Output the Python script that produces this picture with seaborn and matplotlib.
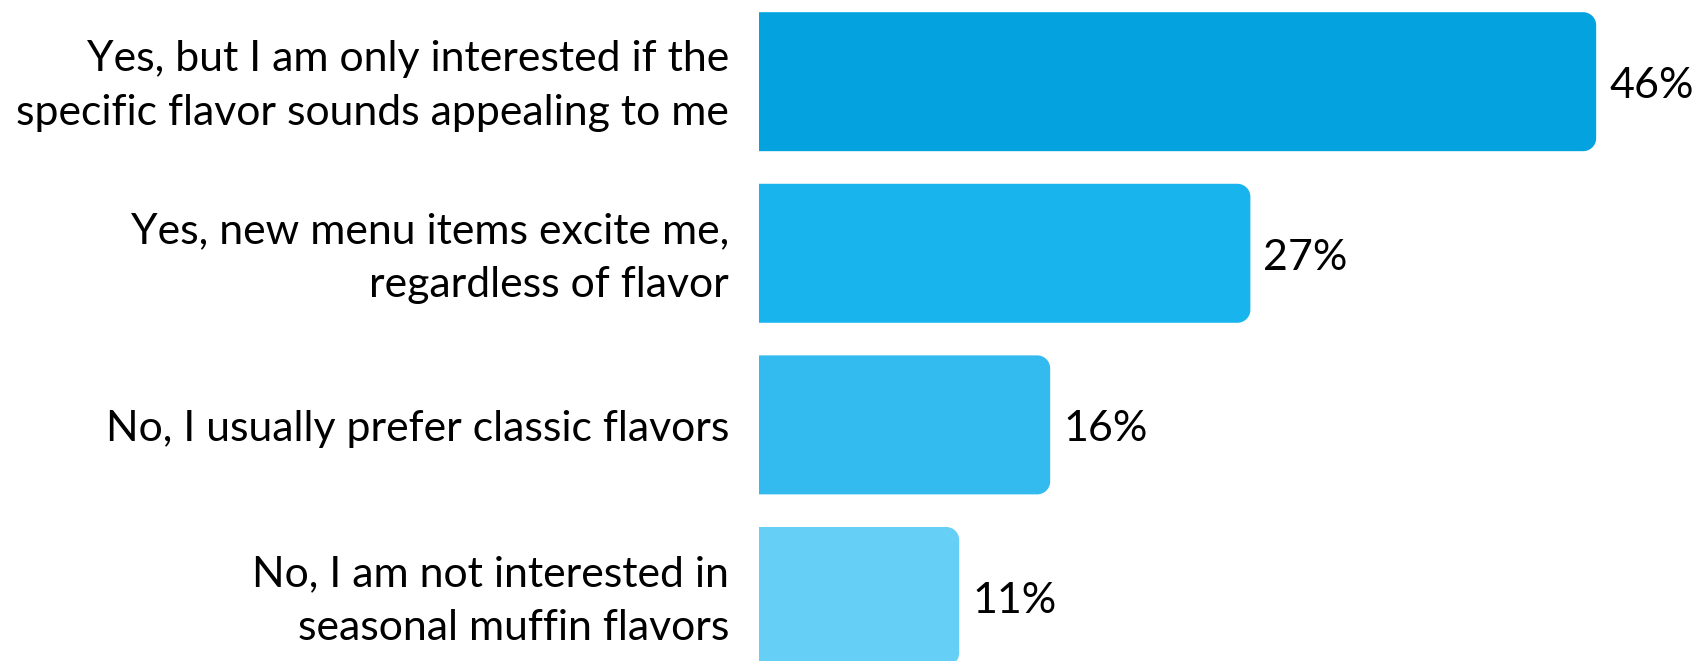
import matplotlib
matplotlib.use("Agg")
import matplotlib.pyplot as plt
import matplotlib.transforms as mtransforms
import seaborn as sns
import pandas as pd
from matplotlib.path import Path
from matplotlib.patches import PathPatch

categories = [
    "Yes, but I am only interested if the specific flavor sounds appealing to me",
    "Yes, new menu items excite me, regardless of flavor",
    "No, I usually prefer classic flavors",
    "No, I am not interested in seasonal muffin flavors",
]
tick_labels = [
    "Yes, but I am only interested if the\nspecific flavor sounds appealing to me",
    "Yes, new menu items excite me,\nregardless of flavor",
    "No, I usually prefer classic flavors",
    "No, I am not interested in\nseasonal muffin flavors",
]
values = [46, 27, 16, 11]
colors = ["#04A3E0", "#18B4EE", "#33BBEF", "#66CFF5"]

sns.set_theme(style="white")
plt.rcParams["font.family"] = ["Lato", "DejaVu Sans"]

W, H, DPI = 1701, 661, 100
fig = plt.figure(figsize=(W / DPI, H / DPI), dpi=DPI)
ax_left = 759
ax = fig.add_axes([ax_left / W, 0, (W - ax_left) / W, 1])

df = pd.DataFrame({"cat": categories, "val": values})
sns.barplot(data=df, y="cat", x="val", hue="cat", palette=colors,
            orient="h", width=0.81, legend=False, ax=ax, saturation=1)

xmax = 51.76
ax.set_xlim(0, xmax)
ax.set_ylim(3.376, -0.476)

ax.set_yticks(range(len(categories)))
ax.set_yticklabels(tick_labels, fontsize=30.8, color="black", linespacing=1.52,
                   va="center")
ax.tick_params(axis="y", length=0, pad=21.6)
ax.set_xticks([])
ax.set_xlabel("")
ax.set_ylabel("")
for s in ax.spines.values():
    s.set_visible(False)

dy_pt = -3.3
shift = mtransforms.ScaledTranslation(0, dy_pt / 72, fig.dpi_scale_trans)
for lab in ax.get_yticklabels():
    lab.set_transform(lab.get_transform() + shift)

# rounded right corners
px_x = (W - ax_left) / xmax
px_y = H / (3.376 + 0.476)
r = 13
rx, ry = r / px_x, r / px_y
k = 0.5523
for p in list(ax.patches):
    x0, y0 = p.get_x(), p.get_y()
    w, h = p.get_width(), p.get_height()
    if w == 0:
        continue
    x1, y1 = x0 + w, y0 + h
    verts = [
        (x0, y0), (x1 - rx, y0),
        (x1 - rx + k * rx, y0), (x1, y0 + ry - k * ry), (x1, y0 + ry),
        (x1, y1 - ry),
        (x1, y1 - ry + k * ry), (x1 - rx + k * rx, y1), (x1 - rx, y1),
        (x0, y1), (x0, y0),
    ]
    codes = [Path.MOVETO, Path.LINETO,
             Path.CURVE4, Path.CURVE4, Path.CURVE4,
             Path.LINETO,
             Path.CURVE4, Path.CURVE4, Path.CURVE4,
             Path.LINETO, Path.CLOSEPOLY]
    pp = PathPatch(Path(verts, codes), facecolor=p.get_facecolor(),
                   edgecolor="none", linewidth=0)
    ax.add_patch(pp)
    p.set_visible(False)

for c in ax.containers:
    labs = [f"{v:.0f}%" if v == v and v > 0 else "" for v in c.datavalues]
    anns = ax.bar_label(c, labels=labs, padding=9.4, fontsize=31, color="black")
    for a in anns:
        a.xyann = (a.xyann[0], a.xyann[1] + dy_pt)

fig.savefig("out.png", dpi=DPI)
